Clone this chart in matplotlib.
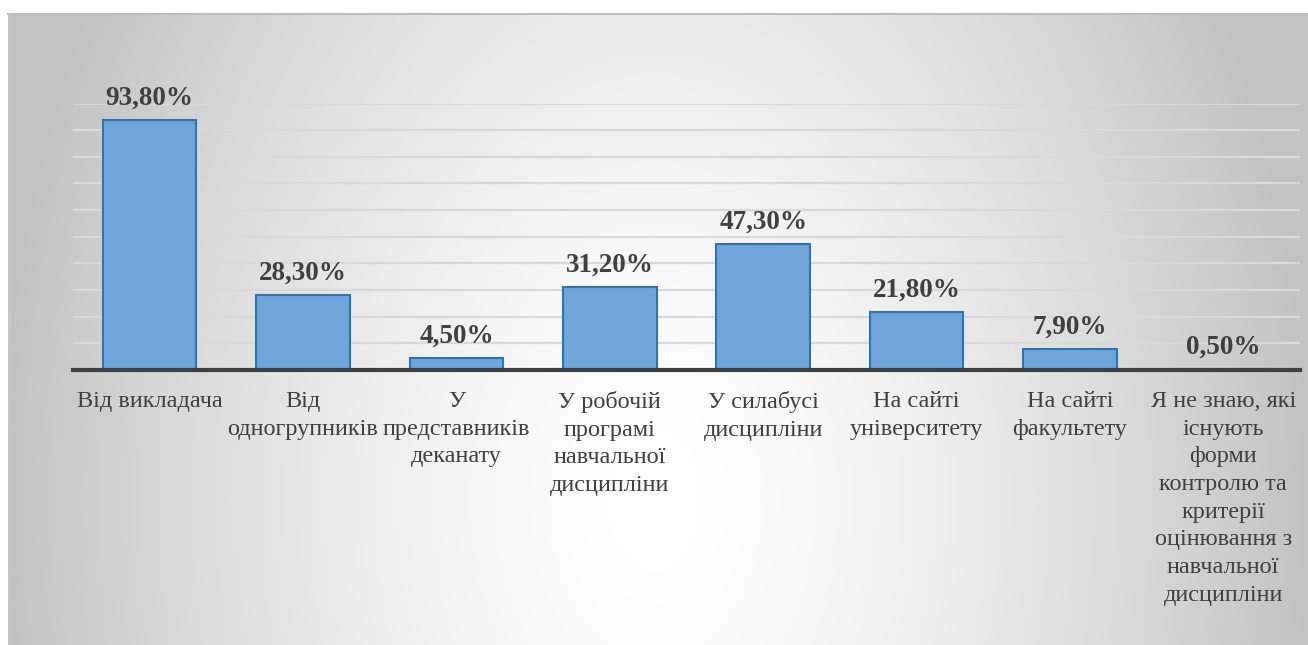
import numpy as np
import matplotlib
matplotlib.use("Agg")
import matplotlib.pyplot as plt
from matplotlib.colors import LinearSegmentedColormap

categories = [
    "Від викладача",
    "Від\nодногрупників",
    "У\nпредставників\nдеканату",
    "У робочій\nпрограмі\nнавчальної\nдисципліни",
    "У силабусі\nдисципліни",
    "На сайті\nуніверситету",
    "На сайті\nфакультету",
    "Я не знаю, які\nіснують\nформи\nконтролю та\nкритерії\nоцінювання з\nнавчальної\nдисципліни",
]
values = [93.8, 28.3, 4.5, 31.2, 47.3, 21.8, 7.9, 0.5]
value_labels = ["93,80%", "28,30%", "4,50%", "31,20%", "47,30%", "21,80%", "7,90%", "0,50%"]

W, H = 1308, 645
fig = plt.figure(figsize=(W / 100, H / 100), dpi=100)
fig.patch.set_facecolor("white")

# background gradient panel
bg = fig.add_axes([8 / W, 0, (W - 8) / W, (H - 13) / H], zorder=0)
bw, bh = 650, 316
xx, yy = np.meshgrid(np.linspace(8, W, bw), np.linspace(13, H, bh))
cx, cy = 655, 500
d = np.sqrt(((xx - cx) / 660.0) ** 2 + ((yy - cy) / 1000.0) ** 2)
d = np.clip(d, 0, 1) ** 1.5
cmap = LinearSegmentedColormap.from_list("g", ["#ffffff", "#c2c2c2"])
bg.imshow(d, cmap=cmap, vmin=0, vmax=1, aspect="auto", origin="upper",
          extent=[0, 1, 0, 1], interpolation="bilinear")
bg.set_xlim(0, 1)
bg.set_ylim(0, 1)
bg.axis("off")
bg.plot([0, 1], [0.998, 0.998], color="#bdbdbd", lw=1.5, transform=bg.transAxes, clip_on=False)
bg.plot([0.0005, 0.0005], [0, 1], color="#c8c8c8", lw=1, transform=bg.transAxes, clip_on=False)

# main axes
left, right = 73, 1300
y_base, y_top = 370, 103.5
ax = fig.add_axes([left / W, (H - y_base) / H, (right - left) / W, (y_base - y_top) / H], zorder=1)
ax.patch.set_alpha(0)
x = np.arange(len(categories))
ax.bar(x, values, width=0.61, color="#6fa5d8", edgecolor="#2e74b5", linewidth=1.5, zorder=3)
ax.set_xlim(-0.5, len(categories) - 0.5)
ax.set_ylim(0, 100)
ax.set_yticks(np.arange(10, 101, 10))
ax.yaxis.grid(True, color="#d9d9d9", linewidth=1.6, zorder=0)
ax.set_axisbelow(True)
ax.tick_params(axis="y", left=False, labelleft=False)
ax.tick_params(axis="x", bottom=False, length=0, pad=15)
for s in ["top", "right", "left"]:
    ax.spines[s].set_visible(False)
ax.spines["bottom"].set_color("#404040")
ax.spines["bottom"].set_linewidth(3)
ax.spines["bottom"].set_zorder(4)
ax.set_xticks(x)
ax.set_xticklabels(categories, fontfamily="Liberation Serif", fontsize=17.5,
                   color="#404040", linespacing=1.42, va="top")

for xi, v, lab in zip(x, values, value_labels):
    ax.annotate(lab, (xi, v), xytext=(0, 11), textcoords="offset points",
                ha="center", va="baseline", fontfamily="Liberation Serif",
                fontweight="bold", fontsize=19.5, color="#404040", zorder=5)

fig.savefig("out.png", dpi=100)
